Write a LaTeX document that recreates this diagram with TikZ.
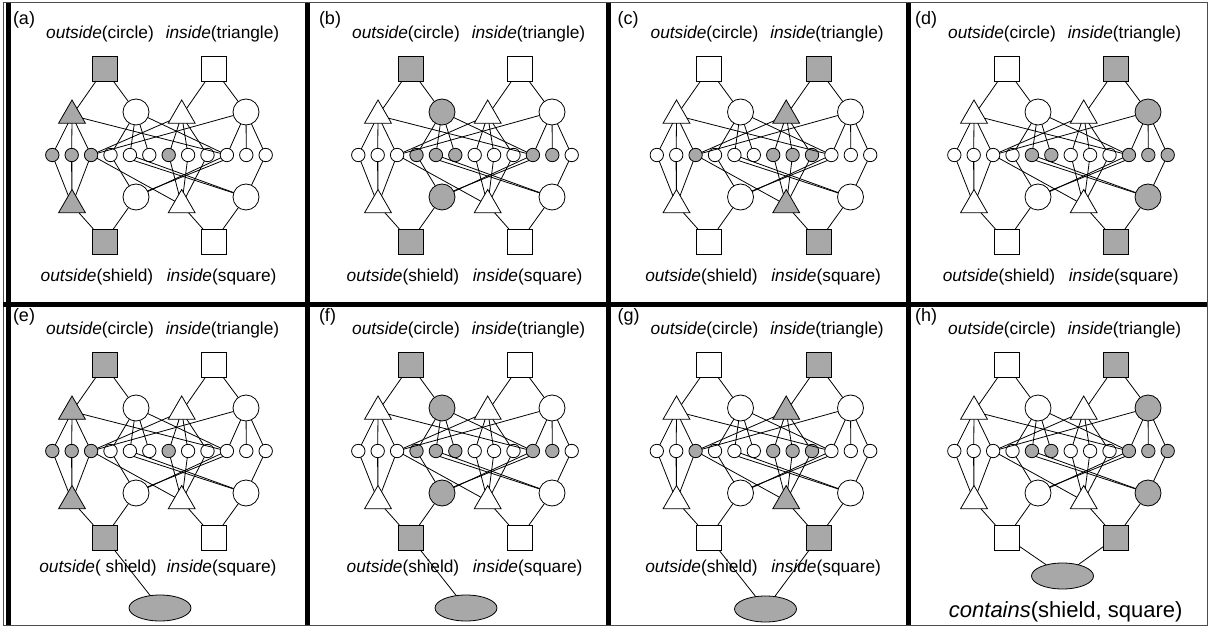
\documentclass[tikz,border=0pt]{standalone}
\usepackage{fontspec}
\setmainfont{Liberation Sans}
\usetikzlibrary{shapes.geometric}
\definecolor{fillg}{RGB}{168,168,168}
\tikzset{
  fS1/.style={},fS2/.style={},fS3/.style={},fS4/.style={},
  fT1/.style={},fT2/.style={},fT3/.style={},fT4/.style={},
  fC1/.style={},fC2/.style={},fC3/.style={},fC4/.style={},
  fsa/.style={},fsb/.style={},fsc/.style={},fsd/.style={},fse/.style={},fsf/.style={},
  fsg/.style={},fsh/.style={},fsi/.style={},fsj/.style={},fsk/.style={},fsl/.style={},
  on/.style={fill=fillg},
  patA/.style={fS1/.style=on,fT1/.style=on,fT3/.style=on,fS3/.style=on,
    fsa/.style=on,fsb/.style=on,fsc/.style=on,fsg/.style=on},
  patB/.style={fS1/.style=on,fC1/.style=on,fC3/.style=on,fS3/.style=on,
    fsd/.style=on,fse/.style=on,fsf/.style=on,fsj/.style=on,fsk/.style=on},
  patC/.style={fS2/.style=on,fT2/.style=on,fT4/.style=on,fS4/.style=on,
    fsc/.style=on,fsg/.style=on,fsh/.style=on,fsi/.style=on},
  patD/.style={fS2/.style=on,fC2/.style=on,fC4/.style=on,fS4/.style=on,
    fse/.style=on,fsf/.style=on,fsj/.style=on,fsk/.style=on,fsl/.style=on},
}
\newcommand\drawgraph[1]{%
  \node[sqn,fS1] (#1S1) at (104.5,69) {};
  \node[sqn,fS2] (#1S2) at (214,69) {};
  \node[trin,fT1] (#1T1) at (72,115.5) {};
  \node[bigc,fC1] (#1C1) at (136,112) {};
  \node[trin,fT2] (#1T2) at (181.7,115.5) {};
  \node[bigc,fC2] (#1C2) at (246,112) {};
  \node[smc,fsa] (#1c1) at (52.3,155) {};
  \node[smc,fsb] (#1c2) at (71.7,155) {};
  \node[smc,fsc] (#1c3) at (91.1,155) {};
  \node[smc,fsd] (#1c4) at (110.5,155) {};
  \node[smc,fse] (#1c5) at (129.9,155) {};
  \node[smc,fsf] (#1c6) at (149.3,155) {};
  \node[smc,fsg] (#1c7) at (168.7,155) {};
  \node[smc,fsh] (#1c8) at (188.1,155) {};
  \node[smc,fsi] (#1c9) at (207.5,155) {};
  \node[smc,fsj] (#1c10) at (226.9,155) {};
  \node[smc,fsk] (#1c11) at (246.3,155) {};
  \node[smc,fsl] (#1c12) at (265.7,155) {};
  \node[trin,fT3] (#1T3) at (72,205) {};
  \node[bigc,fC3] (#1C3) at (136,197) {};
  \node[trin,fT4] (#1T4) at (181.7,205) {};
  \node[bigc,fC4] (#1C4) at (246,197) {};
  \node[sqn,fS3] (#1S3) at (104.5,241.5) {};
  \node[sqn,fS4] (#1S4) at (214,241.5) {};
  \draw[cn] (#1S1) -- (#1T1); \draw[cn] (#1S1) -- (#1C1);
  \draw[cn] (#1S2) -- (#1T2); \draw[cn] (#1S2) -- (#1C2);
  \draw[cn] (#1S3) -- (#1T3); \draw[cn] (#1S3) -- (#1C3);
  \draw[cn] (#1S4) -- (#1T4); \draw[cn] (#1S4) -- (#1C4);
  \draw[cn] (#1T1) -- (#1c1); \draw[cn] (#1T1) -- (#1c2); \draw[cn] (#1T1) -- (#1c3);
  \draw[cn] (#1C1) -- (#1c4); \draw[cn] (#1C1) -- (#1c5); \draw[cn] (#1C1) -- (#1c6);
  \draw[cn] (#1T2) -- (#1c7); \draw[cn] (#1T2) -- (#1c8); \draw[cn] (#1T2) -- (#1c9);
  \draw[cn] (#1C2) -- (#1c10); \draw[cn] (#1C2) -- (#1c11); \draw[cn] (#1C2) -- (#1c12);
  \draw[cn] (#1T1) -- (#1c10);
  \draw[cn] (#1C1) -- (#1c10);
  \draw[cn] (#1C2) -- (#1c3);
  \draw[cn] (#1T2) -- (#1c3);
  \draw[cn] (#1T3) -- (#1c1); \draw[cn,line width=1.1pt] (#1T3) -- (#1c2); \draw[cn] (#1T3) -- (#1c3);
  \draw[cn] (#1T4) -- (#1c3); \draw[cn] (#1T4) -- (#1c7); \draw[cn] (#1T4) -- (#1c8); \draw[cn] (#1T4) -- (#1c9);
  \draw[cn] (#1C3) -- (#1c4);
  \draw[cn] (#1C3) -- (#1c10); \draw[cn] (#1C3.28) -- (#1c10.235);
  \draw[cn] (#1C4) -- (#1c5); \draw[cn] (#1C4.162) -- (#1c5.305);
  \draw[cn] (#1C4) -- (#1c12);
}
\begin{document}
\begin{tikzpicture}[x=1pt,y=-1pt,
  every node/.style={inner sep=0pt, outer sep=0pt},
  base/.style={draw=black, line width=0.8pt, fill=white},
  sqn/.style={base, rectangle, minimum size=25pt},
  trin/.style={base, regular polygon, regular polygon sides=3, minimum size=31pt},
  bigc/.style={base, circle, minimum size=26pt},
  smc/.style={base, circle, minimum size=13.4pt},
  ell/.style={base, ellipse, minimum width=62pt, minimum height=26pt, fill=fillg},
  cn/.style={line width=0.8pt},
  lab/.style={font=\fontsize{17.3}{19}\selectfont},
  pl/.style={anchor=west,font=\fontsize{18}{20}\selectfont},
  big/.style={font=\fontsize{22}{24}\selectfont},
  sep/.style={line width=5pt, black},
]
\useasboundingbox (0,0) rectangle (1210,628);
\fill[white] (0,0) rectangle (1210,628);
% panels
\begin{scope}[shift={(0,0)},patA]
  \drawgraph{a}
  \node[pl] (la) at (13,20) {(a)};
  \node[lab] (ta1) at (100,34) {\textit{outside}(circle)};
  \node[lab] (ta2) at (222.5,34) {\textit{inside}(triangle)};
  \node[lab] (ba1) at (97,277) {\textit{outside}(shield)};
  \node[lab] (ba2) at (221.7,277) {\textit{inside}(square)};
\end{scope}
\begin{scope}[shift={(306,0)},patB]
  \drawgraph{b}
  \node[pl] (lb) at (13,20) {(b)};
  \node[lab] (tb1) at (100,34) {\textit{outside}(circle)};
  \node[lab] (tb2) at (222.5,34) {\textit{inside}(triangle)};
  \node[lab] (bb1) at (97,277) {\textit{outside}(shield)};
  \node[lab] (bb2) at (221.7,277) {\textit{inside}(square)};
\end{scope}
\begin{scope}[shift={(604.5,0)},patC]
  \drawgraph{c}
  \node[pl] (lc) at (13,20) {(c)};
  \node[lab] (tc1) at (100,34) {\textit{outside}(circle)};
  \node[lab] (tc2) at (222.5,34) {\textit{inside}(triangle)};
  \node[lab] (bc1) at (97,277) {\textit{outside}(shield)};
  \node[lab] (bc2) at (221.7,277) {\textit{inside}(square)};
\end{scope}
\begin{scope}[shift={(902,0)},patD]
  \drawgraph{d}
  \node[pl] (ld) at (13,20) {(d)};
  \node[lab] (td1) at (100,34) {\textit{outside}(circle)};
  \node[lab] (td2) at (222.5,34) {\textit{inside}(triangle)};
  \node[lab] (bd1) at (97,277) {\textit{outside}(shield)};
  \node[lab] (bd2) at (221.7,277) {\textit{inside}(square)};
\end{scope}
\begin{scope}[shift={(0,296)},patA]
  \drawgraph{e}
  \node[pl] (le) at (13,21) {(e)};
  \node[lab] (te1) at (100,34) {\textit{outside}(circle)};
  \node[lab] (te2) at (222.5,34) {\textit{inside}(triangle)};
  \node[lab] (be1) at (98,272) {\textit{outside}( shield)};
  \node[lab] (be2) at (221.7,272) {\textit{inside}(square)};
  \node[ell] (eE) at (160,312) {};
  \draw[cn] (eS3) -- (eE);
\end{scope}
\begin{scope}[shift={(306,296)},patB]
  \drawgraph{f}
  \node[pl] (lf) at (13,21) {(f)};
  \node[lab] (tf1) at (100,34) {\textit{outside}(circle)};
  \node[lab] (tf2) at (222.5,34) {\textit{inside}(triangle)};
  \node[lab] (bf1) at (97,272) {\textit{outside}(shield)};
  \node[lab] (bf2) at (221.7,272) {\textit{inside}(square)};
  \node[ell] (fE) at (160,312) {};
  \draw[cn] (fS3) -- (fE);
\end{scope}
\begin{scope}[shift={(604.5,296)},patC]
  \drawgraph{g}
  \node[pl] (lg) at (13,21) {(g)};
  \node[lab] (tg1) at (100,34) {\textit{outside}(circle)};
  \node[lab] (tg2) at (222.5,34) {\textit{inside}(triangle)};
  \node[lab] (bg1) at (97,272) {\textit{outside}(shield)};
  \node[lab] (bg2) at (221.7,272) {\textit{inside}(square)};
  \node[ell] (gE) at (161,313) {};
  \draw[cn] (gS3) -- (gE);
  \draw[cn] (gS4) -- (gE);
\end{scope}
\begin{scope}[shift={(902,296)},patD]
  \drawgraph{h}
  \node[pl] (lh) at (13,21) {(h)};
  \node[lab] (th1) at (100,34) {\textit{outside}(circle)};
  \node[lab] (th2) at (222.5,34) {\textit{inside}(triangle)};
  \node[ell] (hE) at (160.5,280) {};
  \draw[cn] (hS3) -- (hE);
  \draw[cn] (hS4) -- (hE);
  \node[big] (hc) at (163.7,315.5) {\textit{contains}(shield, square)};
\end{scope}
% frames
\draw[line width=1pt, black!70] (3,3) rectangle (1207,625);
\draw[sep] (8,3) -- (8,625);
\draw[sep] (307.5,3) -- (307.5,625);
\draw[sep] (608,3) -- (608,625);
\draw[sep] (908.5,3) -- (908.5,625);
\draw[sep] (3,304.5) -- (1207,304.5);
\end{tikzpicture}
\end{document}
